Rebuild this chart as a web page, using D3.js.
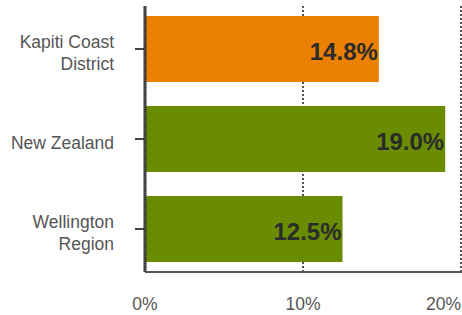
<!DOCTYPE html>
<html>
<head>
<meta charset="utf-8">
<script src="https://cdn.jsdelivr.net/npm/d3@7.9.0/dist/d3.min.js"></script>
<style>
  body { margin: 0; background: #fff; }
  svg { display: block; font-family: "Liberation Sans", Arial, sans-serif; }
</style>
</head>
<body>
<div id="viz"></div>
<script>
// data
const regions = [["Kapiti Coast", "District"], ["New Zealand"], ["Wellington", "Region"]];
const values = [14.8, 19.0, 12.5];
const barColors = ["#ec8003", "#6a8c00", "#6a8c00"];
const xTicks = [0, 10, 20];

const width = 462, height = 315;
const plotLeft = 145, plotRight = 461, plotTop = 6, plotBottom = 272;

const svg = d3.select("#viz").append("svg")
    .attr("width", width)
    .attr("height", height);

const x = d3.scaleLinear().domain([0, 20]).range([plotLeft, plotRight]);
const y = d3.scaleBand()
    .domain(d3.range(regions.length))
    .range([4, 274])
    .paddingInner(0.2667)
    .paddingOuter(0.1333);

// dotted gridlines
svg.append("g")
  .selectAll("line")
  .data(xTicks.slice(1))
  .join("line")
    .attr("x1", d => x(d)).attr("x2", d => x(d))
    .attr("y1", plotTop).attr("y2", plotBottom)
    .attr("stroke", "#555")
    .attr("stroke-width", 2)
    .attr("stroke-dasharray", "2,2");

// bars
svg.append("g")
  .selectAll("rect")
  .data(values)
  .join("rect")
    .attr("x", x(0))
    .attr("y", (d, i) => y(i))
    .attr("width", d => x(d) - x(0))
    .attr("height", y.bandwidth())
    .attr("fill", (d, i) => barColors[i]);

// value labels
svg.append("g")
  .selectAll("text")
  .data(values)
  .join("text")
    .attr("x", d => x(d) - 1)
    .attr("y", (d, i) => y(i) + y.bandwidth() / 2 + 11)
    .attr("text-anchor", "end")
    .attr("font-size", "24px")
    .attr("font-weight", "bold")
    .attr("fill", "#2b2b2b")
    .text(d => d.toFixed(1) + "%");

// y axis
const yAxis = svg.append("g")
    .attr("transform", `translate(${plotLeft},0)`)
    .call(d3.axisLeft(y).tickSize(10).tickPadding(21).tickFormat(""));
yAxis.select(".domain").remove();
yAxis.selectAll(".tick line").attr("stroke", "#444").attr("stroke-width", 2);

yAxis.selectAll(".tick").each(function(d) {
  const lines = regions[d];
  const t = d3.select(this).append("text")
      .attr("x", -31)
      .attr("text-anchor", "end")
      .attr("font-size", "17.5px")
      .attr("fill", "#555");
  lines.forEach((s, k) => {
    t.append("tspan")
      .attr("x", -31)
      .attr("y", 10 - (lines.length - 1) * 11 + k * 22)
      .text(s);
  });
});

// vertical axis line at 0
svg.append("line")
    .attr("x1", plotLeft).attr("x2", plotLeft)
    .attr("y1", plotTop).attr("y2", plotBottom)
    .attr("stroke", "#333")
    .attr("stroke-width", 3);
svg.append("line")
    .attr("x1", plotLeft).attr("x2", plotLeft)
    .attr("y1", plotTop).attr("y2", plotBottom)
    .attr("stroke", "#777")
    .attr("stroke-width", 1)
    .attr("stroke-dasharray", "1,1");

// bottom axis line
svg.append("line")
    .attr("x1", plotLeft).attr("x2", width)
    .attr("y1", plotBottom).attr("y2", plotBottom)
    .attr("stroke", "#555")
    .attr("stroke-width", 2);

// x tick labels
svg.append("g")
  .selectAll("text")
  .data(xTicks)
  .join("text")
    .attr("x", d => x(d))
    .attr("y", 310)
    .attr("text-anchor", (d, i) => i === xTicks.length - 1 ? "end" : "middle")
    .attr("font-size", "17.5px")
    .attr("fill", "#555")
    .text(d => d + "%");
</script>
</body>
</html>
